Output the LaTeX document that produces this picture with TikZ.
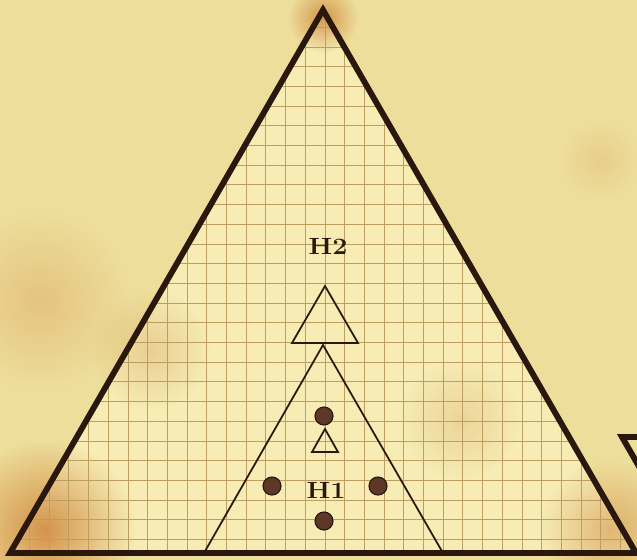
\documentclass[tikz,border=0pt]{standalone}
\usetikzlibrary{fadings}

\definecolor{parchment}{RGB}{238,222,156}
\definecolor{paperlight}{RGB}{246,236,180}
\definecolor{gridbrown}{RGB}{188,158,96}
\definecolor{inkbrown}{RGB}{42,24,14}
\definecolor{dotbrown}{RGB}{94,56,38}
\definecolor{stain}{RGB}{200,118,40}

\tikzfading[name=softblob, inner color=transparent!0, outer color=transparent!100]

\tikzset{
  gridline/.style={gridbrown, line width=0.8pt},
  bigedge/.style={inkbrown, line width=5pt, line join=miter},
  thinedge/.style={inkbrown, line width=1.5pt, line join=miter},
  blob/.style={stain, path fading=softblob},
  marker/.style={circle, fill=dotbrown, draw=inkbrown, line width=1pt,
    minimum size=0.54cm, inner sep=0pt},
  hlabel/.style={inkbrown, font=\fontsize{20}{22}\selectfont\bfseries}
}

\begin{document}
\begin{tikzpicture}[x=0.03cm, y=-0.03cm]
  \useasboundingbox (0,0) rectangle (637,560);
  \clip (0,0) rectangle (637,560);

  % Papel de fundo
  \fill[parchment] (0,0) rectangle (637,560);
  \fill[blob, opacity=0.25] (40,300) circle (90);
  \fill[blob, opacity=0.15] (600,160) circle (40);

  % Pirâmide principal
  \coordinate (top) at (323,10);
  \coordinate (left) at (10,553);
  \coordinate (right) at (636,553);
  \fill[paperlight] (top) -- (left) -- (right) -- cycle;

  % Manchas
  \fill[blob, opacity=0.7] (323,18) circle (35);
  \fill[blob, opacity=0.75] (45,530) circle (90);
  \fill[blob, opacity=0.45] (610,530) circle (70);
  \fill[blob, opacity=0.25] (150,350) circle (60);
  \fill[blob, opacity=0.2] (460,420) circle (60);

  % Quadriculado
  \begin{scope}
    \clip (top) -- (left) -- (right) -- cycle;
    \foreach \i in {-17,...,17}
      \draw[gridline] ({325+19.7*\i},0) -- ({325+19.7*\i},560);
    \foreach \j in {-18,...,11}
      \draw[gridline] (0,{342.5+19.7*\j}) -- (637,{342.5+19.7*\j});
  \end{scope}

  \draw[bigedge] (top) -- (left) -- (right) -- cycle;

  % Triângulo parcial na borda
  \draw[bigedge] (622,437) -- (720,437) -- (671,522) -- cycle;

  % Nível H1
  \coordinate (h1top) at (323,345);
  \coordinate (h1left) at (204,553);
  \coordinate (h1right) at (443,553);
  \draw[thinedge] (h1left) -- (h1top) -- (h1right);

  % Nível H2
  \draw[thinedge] (325,286) -- (292,343) -- (358,343) -- cycle;
  \node[hlabel] (h2) at (328,246) {\scalebox{1.15}[1]{H2}};

  % Marcadores de H1
  \draw[thinedge] (325,429) -- (312,452) -- (338,452) -- cycle;
  \node[marker] (dtop) at (324,416) {};
  \node[marker] (dleft) at (272,486) {};
  \node[marker] (dright) at (378,486) {};
  \node[marker] (dbottom) at (324,521) {};
  \node[hlabel] (h1) at (326,490) {\scalebox{1.15}[1]{H1}};
\end{tikzpicture}
\end{document}
